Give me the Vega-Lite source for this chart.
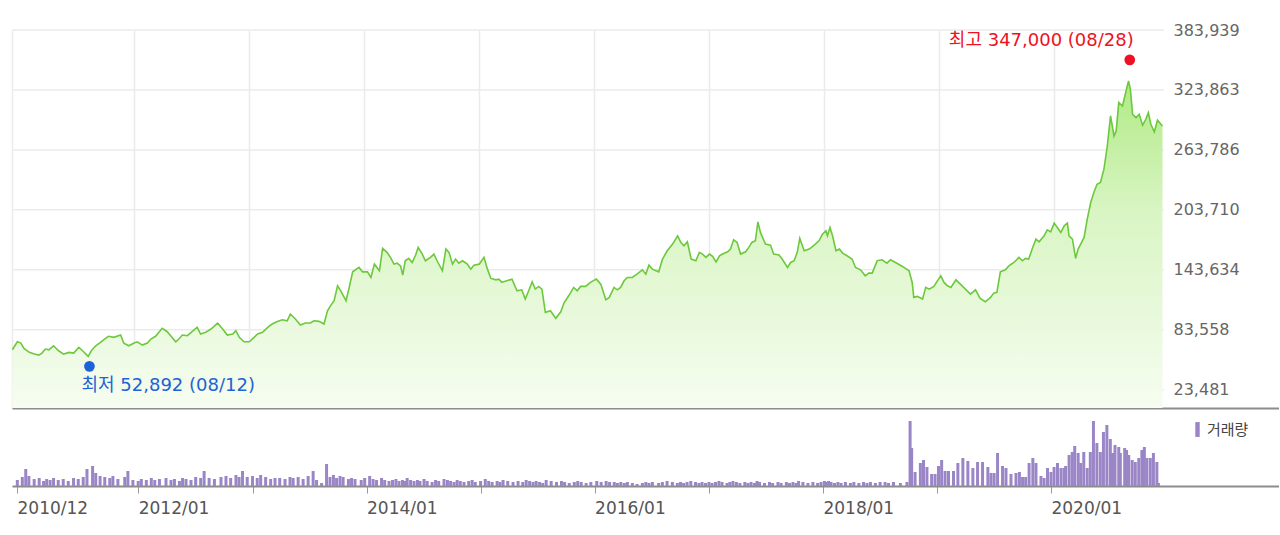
{
"$schema": "https://vega.github.io/schema/vega-lite/v6.json",
"padding": {"left": 9, "top": 22, "right": 0, "bottom": 0},
"background": "white",
"config": {"view": {"stroke": null}, "font": "DejaVu Sans"},
"spacing": 0,
"resolve": {"scale": {"color": "independent"}, "legend": {"color": "independent"}},
"datasets": {
"yg": [{"t":23481},{"t":83558},{"t":143634},{"t":203710},{"t":263786},{"t":323863},{"t":383939}],
"hl": [{"d":"2020-08-28","p":347000,"label":"최고 347,000 (08/28)","k":"hi"},{"d":"2011-08-12","p":52892,"label":"최저 52,892 (08/12)","k":"lo"}],
"px": [
{"d":"2010-12-10","p":63500,"v":60},{"d":"2010-12-26","p":71500,"v":90},{"d":"2011-01-06","p":70200,"v":170},{"d":"2011-01-16","p":64900,"v":100},{"d":"2011-02-02","p":60900,"v":70},{"d":"2011-02-18","p":59200,"v":80},{"d":"2011-03-04","p":58200,"v":50},{"d":"2011-03-14","p":60200,"v":70},{"d":"2011-03-25","p":64200,"v":60},{"d":"2011-04-05","p":63500,"v":80},
{"d":"2011-04-20","p":67500,"v":60},{"d":"2011-05-06","p":62500,"v":70},{"d":"2011-05-22","p":59200,"v":50},{"d":"2011-06-08","p":60900,"v":80},{"d":"2011-06-23","p":60200,"v":70},{"d":"2011-07-09","p":65900,"v":90},{"d":"2011-07-21","p":62500,"v":170},{"d":"2011-08-08","p":56900,"v":200},{"d":"2011-08-18","p":62500,"v":130},{"d":"2011-09-01","p":67500,"v":100},
{"d":"2011-09-16","p":70900,"v":90},{"d":"2011-10-02","p":75000,"v":80},{"d":"2011-10-12","p":77000,"v":100},{"d":"2011-10-28","p":76000,"v":70},{"d":"2011-11-19","p":78300,"v":90},{"d":"2011-11-29","p":70200,"v":150},{"d":"2011-12-15","p":67500,"v":60},{"d":"2012-01-01","p":70200,"v":50},{"d":"2012-01-11","p":71500,"v":70},{"d":"2012-01-27","p":68200,"v":60},
{"d":"2012-02-12","p":70200,"v":80},{"d":"2012-02-23","p":74300,"v":60},{"d":"2012-03-09","p":77000,"v":70},{"d":"2012-03-30","p":85000,"v":80},{"d":"2012-04-15","p":81600,"v":60},{"d":"2012-04-26","p":77600,"v":70},{"d":"2012-05-12","p":71500,"v":50},{"d":"2012-05-22","p":74300,"v":80},{"d":"2012-06-02","p":78300,"v":70},{"d":"2012-06-18","p":77600,"v":60},
{"d":"2012-07-03","p":81600,"v":90},{"d":"2012-07-19","p":86000,"v":80},{"d":"2012-07-30","p":79300,"v":150},{"d":"2012-08-15","p":81000,"v":80},{"d":"2012-09-01","p":84300,"v":70},{"d":"2012-09-22","p":90300,"v":90},{"d":"2012-10-08","p":84300,"v":100},{"d":"2012-10-23","p":78300,"v":80},{"d":"2012-11-09","p":79300,"v":110},{"d":"2012-11-19","p":82600,"v":90},
{"d":"2012-11-30","p":76000,"v":150},{"d":"2012-12-15","p":71500,"v":90},{"d":"2013-01-01","p":71500,"v":100},{"d":"2013-01-16","p":76000,"v":80},{"d":"2013-01-27","p":79300,"v":110},{"d":"2013-02-12","p":81000,"v":90},{"d":"2013-02-28","p":86000,"v":70},{"d":"2013-03-14","p":89300,"v":80},{"d":"2013-03-29","p":91600,"v":80},{"d":"2013-04-15","p":93600,"v":70},
{"d":"2013-05-01","p":92600,"v":90},{"d":"2013-05-11","p":99300,"v":80},{"d":"2013-05-27","p":94300,"v":90},{"d":"2013-06-12","p":88300,"v":70},{"d":"2013-06-28","p":90300,"v":100},{"d":"2013-07-14","p":90300,"v":150},{"d":"2013-07-25","p":92600,"v":60},{"d":"2013-08-10","p":92000,"v":30},{"d":"2013-08-26","p":89300,"v":220},{"d":"2013-09-06","p":102600,"v":90},
{"d":"2013-09-17","p":108300,"v":110},{"d":"2013-09-27","p":112600,"v":80},{"d":"2013-10-08","p":127600,"v":100},{"d":"2013-10-18","p":122600,"v":90},{"d":"2013-11-04","p":112600,"v":70},{"d":"2013-11-14","p":126000,"v":80},{"d":"2013-11-25","p":141600,"v":70},{"d":"2013-12-15","p":146000,"v":60},{"d":"2013-12-26","p":141600,"v":80},{"d":"2014-01-11","p":141600,"v":100},
{"d":"2014-01-22","p":136000,"v":70},{"d":"2014-02-02","p":149300,"v":60},{"d":"2014-02-18","p":142600,"v":80},{"d":"2014-02-28","p":165100,"v":60},{"d":"2014-03-14","p":161100,"v":50},{"d":"2014-03-25","p":156100,"v":60},{"d":"2014-04-05","p":149300,"v":70},{"d":"2014-04-15","p":150300,"v":50},{"d":"2014-04-26","p":147600,"v":60},{"d":"2014-05-03","p":138300,"v":50},
{"d":"2014-05-11","p":152700,"v":80},{"d":"2014-05-22","p":155100,"v":60},{"d":"2014-06-02","p":151000,"v":50},{"d":"2014-06-13","p":158400,"v":60},{"d":"2014-06-21","p":166100,"v":50},{"d":"2014-07-04","p":159400,"v":70},{"d":"2014-07-14","p":152700,"v":50},{"d":"2014-07-30","p":156100,"v":40},{"d":"2014-08-10","p":159400,"v":60},{"d":"2014-08-20","p":152700,"v":50},
{"d":"2014-09-06","p":142600,"v":70},{"d":"2014-09-17","p":164400,"v":60},{"d":"2014-09-27","p":161100,"v":50},{"d":"2014-10-08","p":149300,"v":40},{"d":"2014-10-18","p":154400,"v":60},{"d":"2014-10-28","p":150300,"v":50},{"d":"2014-11-09","p":152700,"v":40},{"d":"2014-11-24","p":149300,"v":50},{"d":"2014-12-05","p":144300,"v":60},{"d":"2014-12-15","p":148300,"v":40},
{"d":"2015-01-01","p":149300,"v":50},{"d":"2015-01-16","p":156100,"v":70},{"d":"2015-01-27","p":144300,"v":50},{"d":"2015-02-07","p":135000,"v":40},{"d":"2015-02-23","p":133600,"v":50},{"d":"2015-03-04","p":134300,"v":40},{"d":"2015-03-14","p":131000,"v":60},{"d":"2015-03-29","p":132600,"v":50},{"d":"2015-04-15","p":134300,"v":40},{"d":"2015-05-01","p":122600,"v":50},
{"d":"2015-05-16","p":123600,"v":40},{"d":"2015-05-27","p":114300,"v":60},{"d":"2015-06-07","p":122600,"v":50},{"d":"2015-06-18","p":131600,"v":40},{"d":"2015-06-28","p":124300,"v":50},{"d":"2015-07-09","p":127000,"v":40},{"d":"2015-07-19","p":124300,"v":30},{"d":"2015-07-30","p":101000,"v":60},{"d":"2015-08-15","p":102600,"v":50},{"d":"2015-09-01","p":95000,"v":40},
{"d":"2015-09-17","p":101600,"v":50},{"d":"2015-09-27","p":110300,"v":40},{"d":"2015-10-12","p":117600,"v":30},{"d":"2015-10-28","p":126000,"v":40},{"d":"2015-11-08","p":122600,"v":50},{"d":"2015-11-19","p":127000,"v":40},{"d":"2015-12-05","p":127000,"v":30},{"d":"2015-12-20","p":131000,"v":40},{"d":"2016-01-08","p":134300,"v":50},{"d":"2016-01-22","p":129300,"v":40},
{"d":"2016-02-07","p":113600,"v":50},{"d":"2016-02-18","p":116000,"v":40},{"d":"2016-03-04","p":126000,"v":40},{"d":"2016-03-14","p":123600,"v":30},{"d":"2016-03-25","p":126000,"v":40},{"d":"2016-04-05","p":132600,"v":30},{"d":"2016-04-15","p":136000,"v":40},{"d":"2016-05-01","p":136000,"v":30},{"d":"2016-05-16","p":139300,"v":20},{"d":"2016-06-02","p":143600,"v":30},
{"d":"2016-06-13","p":139300,"v":40},{"d":"2016-06-23","p":148300,"v":30},{"d":"2016-07-04","p":144300,"v":40},{"d":"2016-07-24","p":141600,"v":30},{"d":"2016-08-05","p":154400,"v":40},{"d":"2016-08-20","p":162700,"v":50},{"d":"2016-09-06","p":169400,"v":40},{"d":"2016-09-22","p":177700,"v":30},{"d":"2016-10-02","p":171100,"v":40},{"d":"2016-10-12","p":167700,"v":30},
{"d":"2016-10-23","p":171700,"v":40},{"d":"2016-11-04","p":154400,"v":50},{"d":"2016-11-19","p":152700,"v":40},{"d":"2016-11-30","p":161100,"v":30},{"d":"2016-12-10","p":159400,"v":40},{"d":"2016-12-21","p":156100,"v":30},{"d":"2017-01-01","p":159400,"v":40},{"d":"2017-01-11","p":157100,"v":30},{"d":"2017-01-22","p":151600,"v":40},{"d":"2017-02-02","p":157700,"v":50},
{"d":"2017-02-12","p":159400,"v":40},{"d":"2017-02-28","p":161700,"v":30},{"d":"2017-03-09","p":164400,"v":40},{"d":"2017-03-19","p":173700,"v":50},{"d":"2017-03-30","p":171100,"v":40},{"d":"2017-04-10","p":159400,"v":30},{"d":"2017-04-26","p":161700,"v":40},{"d":"2017-05-06","p":166100,"v":30},{"d":"2017-05-16","p":171100,"v":40},{"d":"2017-05-27","p":172700,"v":30},
{"d":"2017-06-04","p":191700,"v":50},{"d":"2017-06-12","p":181100,"v":40},{"d":"2017-06-28","p":169400,"v":30},{"d":"2017-07-14","p":168400,"v":40},{"d":"2017-07-24","p":159400,"v":30},{"d":"2017-08-10","p":158400,"v":40},{"d":"2017-08-20","p":154400,"v":30},{"d":"2017-09-06","p":146000,"v":40},{"d":"2017-09-16","p":151000,"v":30},{"d":"2017-09-27","p":152700,"v":40},
{"d":"2017-10-07","p":161100,"v":30},{"d":"2017-10-15","p":175100,"v":50},{"d":"2017-10-29","p":162700,"v":40},{"d":"2017-11-14","p":164400,"v":30},{"d":"2017-11-30","p":168400,"v":40},{"d":"2017-12-15","p":172700,"v":30},{"d":"2017-12-26","p":179400,"v":40},{"d":"2018-01-06","p":182700,"v":50},{"d":"2018-01-11","p":177700,"v":40},{"d":"2018-01-19","p":186100,"v":50},
{"d":"2018-01-27","p":177700,"v":40},{"d":"2018-02-07","p":162700,"v":30},{"d":"2018-02-18","p":164400,"v":40},{"d":"2018-02-28","p":160400,"v":30},{"d":"2018-03-14","p":157700,"v":40},{"d":"2018-03-30","p":154400,"v":30},{"d":"2018-04-10","p":146000,"v":40},{"d":"2018-04-26","p":143600,"v":30},{"d":"2018-05-11","p":137600,"v":40},{"d":"2018-05-22","p":140300,"v":30},
{"d":"2018-06-02","p":140300,"v":40},{"d":"2018-06-18","p":152700,"v":30},{"d":"2018-07-03","p":153700,"v":40},{"d":"2018-07-19","p":150300,"v":40},{"d":"2018-07-30","p":153700,"v":30},{"d":"2018-08-15","p":151000,"v":40},{"d":"2018-09-06","p":147000,"v":30},{"d":"2018-09-27","p":142600,"v":40},{"d":"2018-10-07","p":131000,"v":650},{"d":"2018-10-12","p":116000,"v":380},
{"d":"2018-10-23","p":117000,"v":140},{"d":"2018-11-09","p":114300,"v":230},{"d":"2018-11-19","p":126000,"v":260},{"d":"2018-11-30","p":124300,"v":190},{"d":"2018-12-15","p":127000,"v":120},{"d":"2018-12-26","p":132600,"v":120},{"d":"2019-01-06","p":137600,"v":200},{"d":"2019-01-16","p":131000,"v":260},{"d":"2019-01-27","p":127600,"v":150},{"d":"2019-02-07","p":126000,"v":150},
{"d":"2019-02-23","p":133600,"v":150},{"d":"2019-03-09","p":129300,"v":230},{"d":"2019-03-25","p":124300,"v":280},{"d":"2019-04-10","p":119300,"v":250},{"d":"2019-04-26","p":123600,"v":180},{"d":"2019-05-11","p":115000,"v":240},{"d":"2019-05-27","p":111600,"v":240},{"d":"2019-06-13","p":116000,"v":190},{"d":"2019-06-23","p":120300,"v":130},{"d":"2019-07-03","p":121000,"v":130},
{"d":"2019-07-14","p":141600,"v":330},{"d":"2019-07-30","p":143600,"v":200},{"d":"2019-08-10","p":147600,"v":180},{"d":"2019-08-26","p":151000,"v":120},{"d":"2019-09-11","p":156100,"v":130},{"d":"2019-09-22","p":152700,"v":140},{"d":"2019-10-02","p":155100,"v":90},{"d":"2019-10-12","p":154400,"v":90},{"d":"2019-10-23","p":164400,"v":230},{"d":"2019-11-04","p":174400,"v":280},
{"d":"2019-11-14","p":171700,"v":230},{"d":"2019-11-30","p":177700,"v":100},{"d":"2019-12-10","p":183700,"v":80},{"d":"2019-12-21","p":181700,"v":180},{"d":"2020-01-01","p":190400,"v":140},{"d":"2020-01-11","p":186100,"v":190},{"d":"2020-01-22","p":181100,"v":230},{"d":"2020-02-02","p":187700,"v":180},{"d":"2020-02-12","p":190400,"v":180},{"d":"2020-02-17","p":177700,"v":200},
{"d":"2020-02-28","p":174400,"v":310},{"d":"2020-03-09","p":155100,"v":340},{"d":"2020-03-17","p":164400,"v":400},{"d":"2020-03-28","p":171100,"v":330},{"d":"2020-04-05","p":176100,"v":230},{"d":"2020-04-15","p":194400,"v":340},{"d":"2020-04-26","p":211100,"v":180},{"d":"2020-05-06","p":221100,"v":340},{"d":"2020-05-16","p":229400,"v":650},{"d":"2020-05-27","p":231100,"v":430},
{"d":"2020-06-07","p":244500,"v":340},{"d":"2020-06-17","p":266200,"v":540},{"d":"2020-06-28","p":297800,"v":610},{"d":"2020-07-09","p":277800,"v":470},{"d":"2020-07-16","p":282800,"v":330},{"d":"2020-07-24","p":311300,"v":410},{"d":"2020-08-05","p":307800,"v":390},{"d":"2020-08-10","p":314600,"v":330},{"d":"2020-08-24","p":332900,"v":380},{"d":"2020-08-30","p":324600,"v":360},
{"d":"2020-09-06","p":299500,"v":310},{"d":"2020-09-17","p":296200,"v":260},{"d":"2020-09-27","p":299500,"v":240},{"d":"2020-10-08","p":288500,"v":280},{"d":"2020-10-18","p":294500,"v":360},{"d":"2020-10-26","p":301200,"v":390},{"d":"2020-11-03","p":289500,"v":280},{"d":"2020-11-14","p":281800,"v":280},{"d":"2020-11-24","p":293500,"v":330},{"d":"2020-12-05","p":289500,"v":240},
{"d":"2020-12-10","p":287800,"v":30}
]
},
"vconcat": [
{
"width": 1267, "height": 378,
"layer": [
{"data": {"name": "yg"},
 "mark": {"type": "rule", "color": "#ebebeb", "strokeWidth": 1.5},
 "encoding": {
  "y": {"field": "t", "type": "quantitative", "scale": {"domain": [5160, 383939], "nice": false, "zero": false},
        "axis": {"orient": "right", "offset": -115, "values": [23481,83558,143634,203710,263786,323863,383939], "format": ",d", "grid": false, "ticks": false, "domain": false, "labelPadding": 9, "labelFont": "DejaVu Sans", "labelFontSize": 16, "labelColor": "#666666", "title": null, "labelOverlap": false, "labelFlush": false}},
  "x": {"datum": {"year": 2010, "month": 12, "date": 9}, "type": "temporal",
        "scale": {"domain": [{"year": 2010, "month": 12, "date": 9}, {"year": 2021, "month": 12, "date": 15}]},
        "axis": {"values": [{"year": 2010, "month": 12, "date": 9}, {"year": 2012, "month": 1, "date": 1}, {"year": 2013, "month": 1, "date": 1}, {"year": 2014, "month": 1, "date": 1}, {"year": 2015, "month": 1, "date": 1}, {"year": 2016, "month": 1, "date": 1}, {"year": 2017, "month": 1, "date": 1}, {"year": 2018, "month": 1, "date": 1}, {"year": 2019, "month": 1, "date": 1}, {"year": 2020, "month": 1, "date": 1}],
                 "grid": true, "gridColor": "#ebebeb", "gridWidth": 1.5, "labels": false, "ticks": false, "domain": true, "domainColor": "#8c8c8c", "domainWidth": 2, "title": null}},
  "x2": {"datum": {"year": 2020, "month": 12, "date": 14}}
 }},
{"data": {"name": "px"},
 "mark": {"type": "area", "clip": true, "color": {"gradient": "linear", "x1": 0, "y1": 1, "x2": 0, "y2": 0, "stops": [{"offset": 0, "color": "#f7fdf2"}, {"offset": 0.6, "color": "#d9f5c4"}, {"offset": 1, "color": "#b0ea85"}]}},
 "encoding": {"x": {"field": "d", "type": "temporal"}, "y": {"field": "p", "type": "quantitative"}}},
{"data": {"name": "px"},
 "mark": {"type": "line", "color": "#6cc93b", "strokeWidth": 1.6},
 "encoding": {"x": {"field": "d", "type": "temporal"}, "y": {"field": "p", "type": "quantitative"}}},
{"data": {"name": "hl"}, "transform": [{"filter": "datum.k == 'hi'"}],
 "mark": {"type": "point", "filled": true, "opacity": 1, "size": 115, "color": "#ee1122", "yOffset": -7},
 "encoding": {"x": {"field": "d", "type": "temporal"}, "y": {"field": "p", "type": "quantitative"}}},
{"data": {"name": "hl"}, "transform": [{"filter": "datum.k == 'lo'"}],
 "mark": {"type": "point", "filled": true, "opacity": 1, "size": 115, "color": "#1e63d6", "yOffset": 6},
 "encoding": {"x": {"field": "d", "type": "temporal"}, "y": {"field": "p", "type": "quantitative"}}},
{"data": {"name": "hl"}, "transform": [{"filter": "datum.k == 'hi'"}],
 "mark": {"type": "text", "align": "right", "baseline": "middle", "dx": 4, "dy": -26, "font": "DejaVu Sans, Noto Sans CJK KR", "fontSize": 18, "color": "#ee1122"},
 "encoding": {"x": {"field": "d", "type": "temporal"}, "y": {"field": "p", "type": "quantitative"}, "text": {"field": "label"}}},
{"data": {"name": "hl"}, "transform": [{"filter": "datum.k == 'lo'"}],
 "mark": {"type": "text", "align": "left", "baseline": "middle", "dx": -8, "dy": 26, "font": "DejaVu Sans, Noto Sans CJK KR", "fontSize": 18, "color": "#1e63d6"},
 "encoding": {"x": {"field": "d", "type": "temporal"}, "y": {"field": "p", "type": "quantitative"}, "text": {"field": "label"}}}
]
},
{
"width": 1267, "height": 78,
"data": {"name": "px"},
"mark": {"type": "bar", "size": 3},
"encoding": {
 "x": {"field": "d", "type": "temporal",
       "scale": {"domain": [{"year": 2010, "month": 12, "date": 9}, {"year": 2021, "month": 12, "date": 15}]},
       "axis": {"values": [{"year": 2010, "month": 12, "date": 9}, {"year": 2012, "month": 1, "date": 1}, {"year": 2013, "month": 1, "date": 1}, {"year": 2014, "month": 1, "date": 1}, {"year": 2015, "month": 1, "date": 1}, {"year": 2016, "month": 1, "date": 1}, {"year": 2017, "month": 1, "date": 1}, {"year": 2018, "month": 1, "date": 1}, {"year": 2019, "month": 1, "date": 1}, {"year": 2020, "month": 1, "date": 1}],
                "format": "%Y/%m", "labelExpr": "year(datum.value) % 2 == 1 ? '' : datum.label",
                "labelAlign": "left", "labelOffset": 0, "labelFont": "DejaVu Sans", "labelFontSize": 17, "labelColor": "#555555", "labelPadding": 7,
                "tickSize": 7, "tickColor": "#9a9a9a", "tickWidth": 1, "domainColor": "#8c8c8c", "domainWidth": 2, "grid": false, "title": null, "labelOverlap": false, "labelFlush": false}},
 "y": {"field": "v", "type": "quantitative", "scale": {"domain": [0, 780], "nice": false}, "axis": null},
 "color": {"datum": "거래량", "type": "nominal", "scale": {"range": ["#9a86c6"]},
           "legend": {"title": null, "orient": "none", "legendX": 1178, "legendY": 14, "symbolType": "M-0.3,-1L0.3,-1L0.3,1L-0.3,1Z", "symbolSize": 220, "symbolStrokeWidth": 0, "labelFont": "Noto Sans CJK KR", "labelFontSize": 15, "labelColor": "#444444", "labelOffset": 2}}
}
}
]
}
